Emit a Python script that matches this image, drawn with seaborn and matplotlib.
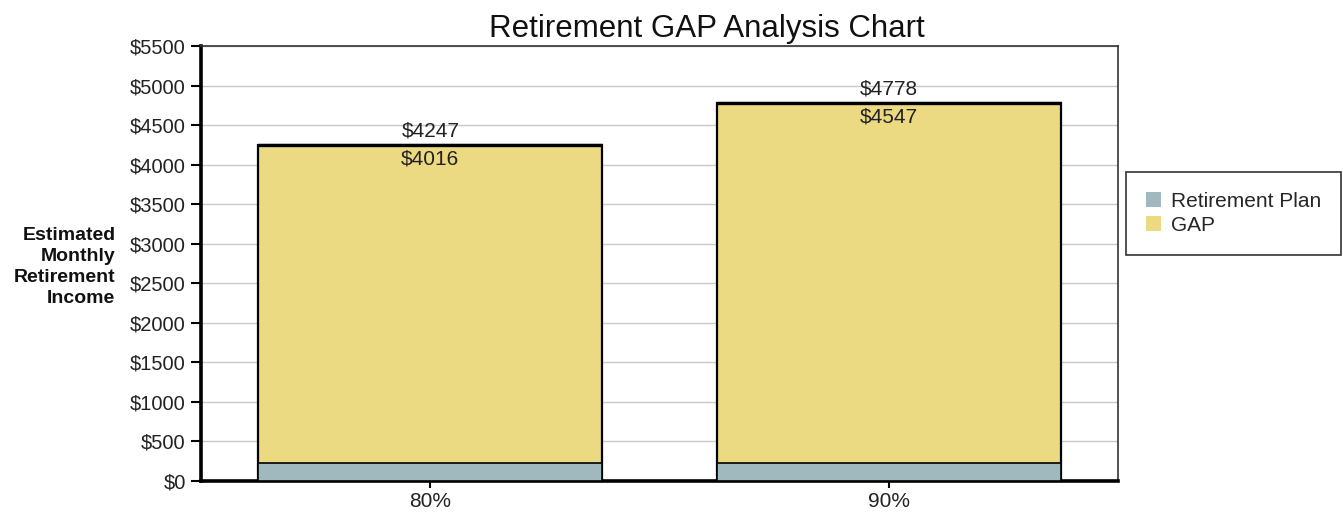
import matplotlib
matplotlib.use("Agg")
import matplotlib.pyplot as plt
import matplotlib.patches as mpatches
import seaborn as sns
import pandas as pd

# Replacement ratio scenarios and monthly income components (USD)
categories = ["80%", "90%"]
plan_income = [231, 231]
gap_income = [4016, 4547]
y_ticks = list(range(0, 5501, 500))

plan_color = "#9fb9bf"
gap_color = "#ebda82"

sns.set_theme(style="white")
plt.rcParams["font.family"] = ["Liberation Sans", "DejaVu Sans"]

df = pd.DataFrame({
    "scenario": categories,
    "plan": plan_income,
    "gap": gap_income,
})
df["total"] = df["plan"] + df["gap"]

fig = plt.figure(figsize=(13.43, 5.12), dpi=100)
ax = fig.add_axes([0.1497, 0.0605, 0.6828, 0.8497])

# Stacked bars: full height in the GAP colour, plan segment drawn over the base
sns.barplot(data=df, x="scenario", y="total", color=gap_color, width=0.75,
            edgecolor="black", linewidth=1.6, saturation=1, ax=ax, zorder=2)
sns.barplot(data=df, x="scenario", y="plan", color=plan_color, width=0.75,
            edgecolor="black", linewidth=1.2, saturation=1, ax=ax, zorder=3)

# Heavier outline along the top of each stack
for i, total in enumerate(df["total"]):
    ax.plot([i - 0.375, i + 0.375], [total, total], color="black", lw=2.4,
            zorder=4, solid_capstyle="butt")

for i, row in df.iterrows():
    ax.text(i, row["total"] + 55, f"${row['total']}", ha="center", va="bottom",
            fontsize=15, color="#222222", zorder=5)
    ax.text(i, row["total"] - 55, f"${row['gap']}", ha="center", va="top",
            fontsize=15, color="#222222", zorder=5)

ax.set_xlim(-0.5, 1.5)
ax.set_ylim(0, 5500)
ax.set_yticks(y_ticks)
ax.set_yticklabels([f"${v}" for v in y_ticks])
ax.yaxis.grid(True, color="#c8c8c8", lw=1.0, zorder=0)
ax.set_axisbelow(True)

ax.tick_params(axis="both", which="major", colors="black",
               labelcolor="#222222", direction="out", length=7, width=1.5,
               left=True, bottom=True)
ax.tick_params(axis="y", labelsize=14.5, pad=4)
ax.tick_params(axis="x", labelsize=15, length=5, pad=3)

for side in ["left", "bottom"]:
    ax.spines[side].set_color("black")
    ax.spines[side].set_linewidth(2.6)
for side in ["top", "right"]:
    ax.spines[side].set_color("#333333")
    ax.spines[side].set_linewidth(1.2)

ax.set_xlabel("")
ax.set_ylabel("")

fig.text(0.086, 0.478, "Estimated\nMonthly\nRetirement\nIncome",
         ha="right", va="center", fontsize=14, fontweight="bold",
         linespacing=1.3, color="#111111")

fig.text(707 / 1343, 1 - 29 / 512, "Retirement GAP Analysis Chart",
         ha="center", va="center", fontsize=22.5, color="#111111")

handles = [mpatches.Patch(facecolor=plan_color, edgecolor="none", label="Retirement Plan"),
           mpatches.Patch(facecolor=gap_color, edgecolor="none", label="GAP")]
leg = fig.legend(handles=handles, loc="upper left",
                 bbox_to_anchor=(1126 / 1343, 1 - 172 / 512), frameon=True,
                 fancybox=False, fontsize=15, handlelength=0.75, handleheight=0.75,
                 handletextpad=0.45, borderpad=0.95, labelspacing=0.25,
                 borderaxespad=0)
leg.get_frame().set_edgecolor("black")
leg.get_frame().set_linewidth(1.2)

fig.savefig("out.png", dpi=100, facecolor="white")
